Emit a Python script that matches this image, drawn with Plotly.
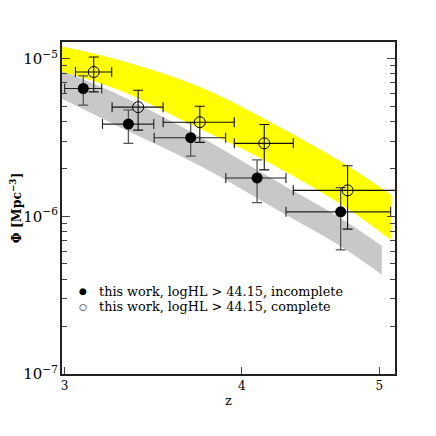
import numpy as np
import plotly.graph_objects as go

# incomplete sample (filled)
z_inc = [3.092, 3.327, 3.681, 4.100, 4.696]
phi_inc = [6.46e-6, 3.84e-6, 3.15e-6, 1.75e-6, 1.067e-6]
z_inc_lo = [3.000, 3.190, 3.469, 3.897, 4.297]
z_inc_hi = [3.186, 3.467, 3.896, 4.297, 5.093]
phi_inc_lo = [5.07e-6, 2.90e-6, 2.41e-6, 1.22e-6, 6.13e-7]
phi_inc_hi = [7.76e-6, 4.73e-6, 3.92e-6, 2.28e-6, 1.52e-6]

# complete sample (open)
z_com = [3.145, 3.380, 3.736, 4.148, 4.749]
phi_com = [8.22e-6, 4.92e-6, 3.95e-6, 2.90e-6, 1.46e-6]
z_com_lo = [3.053, 3.240, 3.520, 3.951, 4.348]
z_com_hi = [3.238, 3.520, 3.951, 4.348, 5.300]
phi_com_lo = [6.15e-6, 3.52e-6, 2.94e-6, 1.97e-6, 8.29e-7]
phi_com_hi = [1.024e-5, 6.30e-6, 4.99e-6, 3.82e-6, 2.09e-6]

# model bands
z_yel = [2.98, 3.28, 3.74, 4.20, 4.69, 5.095]
yel_top = [1.197e-5, 9.75e-6, 6.58e-6, 3.91e-6, 2.24e-6, 1.37e-6]
yel_bot = [8.31e-6, 6.30e-6, 3.57e-6, 2.14e-6, 1.20e-6, 7.09e-7]
z_gray = [2.98, 3.28, 3.74, 4.25, 4.69, 5.02]
gray_top = [8.43e-6, 5.86e-6, 3.18e-6, 1.63e-6, 9.77e-7, 6.50e-7]
gray_bot = [5.61e-6, 3.68e-6, 2.08e-6, 1.08e-6, 6.50e-7, 4.26e-7]

legend_labels = ["this work, logHL > 44.15, incomplete",
                 "this work, logHL > 44.15, complete"]
legend_symbols = ["●", "○"]

FONT = "DejaVu Serif"

fig = go.Figure()

# bands
fig.add_trace(go.Scatter(x=z_gray, y=gray_bot, mode="lines", line=dict(width=0, shape="spline"),
                         showlegend=False, hoverinfo="skip"))
fig.add_trace(go.Scatter(x=z_gray, y=gray_top, mode="lines", line=dict(width=0, shape="spline"),
                         fill="tonexty", fillcolor="#c8c8c8", showlegend=False, hoverinfo="skip"))
fig.add_trace(go.Scatter(x=z_yel, y=yel_bot, mode="lines", line=dict(width=0, shape="spline"),
                         showlegend=False, hoverinfo="skip"))
fig.add_trace(go.Scatter(x=z_yel, y=yel_top, mode="lines", line=dict(width=0, shape="spline"),
                         fill="tonexty", fillcolor="#ffff00", showlegend=False, hoverinfo="skip"))

zi, pi_ = np.array(z_inc), np.array(phi_inc)
zc, pc = np.array(z_com), np.array(phi_com)

fig.add_trace(go.Scatter(
    x=z_inc, y=phi_inc, mode="markers", showlegend=False, name=legend_labels[0],
    marker=dict(symbol="circle", size=11, color="black"),
    error_x=dict(type="data", array=np.array(z_inc_hi) - zi, arrayminus=zi - np.array(z_inc_lo),
                 color="#222222", thickness=1.1, width=5),
    error_y=dict(type="data", array=np.array(phi_inc_hi) - pi_, arrayminus=pi_ - np.array(phi_inc_lo),
                 color="#555555", thickness=1.3, width=5),
))

fig.add_trace(go.Scatter(
    x=z_com, y=phi_com, mode="markers", showlegend=False, name=legend_labels[1],
    marker=dict(symbol="circle-open", size=11, color="black", line=dict(width=1)),
    error_x=dict(type="data", array=np.array(z_com_hi) - zc, arrayminus=zc - np.array(z_com_lo),
                 color="#111111", thickness=1.1, width=5),
    error_y=dict(type="data", array=np.array(phi_com_hi) - pc, arrayminus=pc - np.array(phi_com_lo),
                 color="#111111", thickness=1.1, width=5),
))

# legend drawn as text rows
legend_rows_y = [0.25, 0.202]
for sym, lab, ry in zip(legend_symbols, legend_labels, legend_rows_y):
    fig.add_annotation(xref="paper", yref="paper", x=0.063, y=ry, xanchor="center", yanchor="middle",
                       text=sym, showarrow=False, font=dict(family=FONT, size=9, color="black"))
    fig.add_annotation(xref="paper", yref="paper", x=0.106, y=ry, xanchor="left", yanchor="middle",
                       text=lab, showarrow=False, font=dict(family=FONT, size=12.8, color="black"))

fig.update_layout(
    width=428, height=428,
    margin=dict(l=54, r=41, t=34, b=62),
    paper_bgcolor="white", plot_bgcolor="white",
    font=dict(family=FONT, size=12, color="black"),
    showlegend=False,
    xaxis=dict(
        type="log", range=[np.log10(2.987), np.log10(5.129)],
        tickmode="array", tickvals=[3, 4, 5], ticktext=["3", "4", "5"],
        ticks="inside", ticklen=7, tickcolor="#444", tickwidth=1.2,
        showline=True, linecolor="#222", linewidth=1.5, mirror=True,
        showgrid=False, zeroline=False, automargin=False,
        title=dict(text="z", font=dict(family=FONT, size=13), standoff=4),
        tickfont=dict(family=FONT, size=12),
    ),
    yaxis=dict(
        type="log", range=[-7, -4.895],
        dtick=1, exponentformat="power",
        ticks="inside", ticklen=8, tickcolor="#444", tickwidth=1.2,
        minor=dict(ticks="inside", ticklen=5, tickcolor="#444", dtick="D1", showgrid=False),
        showline=True, linecolor="#222", linewidth=1.5, mirror="allticks",
        showgrid=False, zeroline=False, automargin=False,
        title=dict(text="<b>Φ [Mpc<sup>−3</sup>]</b>", font=dict(family=FONT, size=12.5), standoff=14),
        tickfont=dict(family=FONT, size=12),
    ),
)

fig.write_html("out.html")
